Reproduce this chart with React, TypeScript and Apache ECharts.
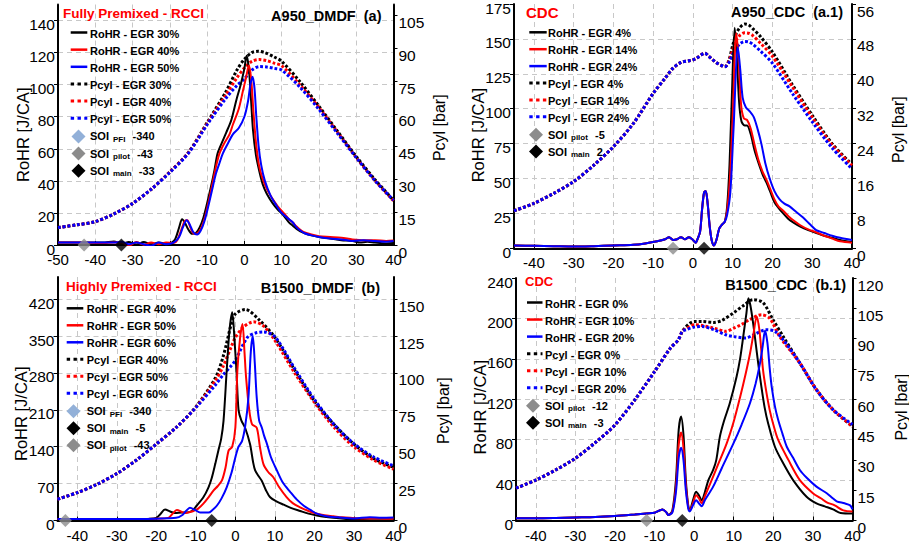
import React, { useEffect, useRef } from 'react';
import * as echarts from 'echarts';

type P = [number, number][];

const FF = 'Arial, "Liberation Sans", Helvetica, sans-serif';
const BLACK = '#000000';
const RED = '#ff0000';
const BLUE = '#0000ff';
const GRAY = '#8c8c8c';
const PFI = '#92b0d8';

// ---------- Panel (a) A950_DMDF ----------
const aRoHR30: P = [[-50,1.5],[-44,1.5],[-38,1.5],[-35,2.2],[-33,0.8],[-31,1.8],[-29,0.3],[-27,1.8],[-25,0.5],[-23,1.5],[-21,1],[-19.5,1.5],[-18.5,4],[-17.5,11],[-16.7,16],[-16,14],[-15,9.5],[-14,7],[-13,7.5],[-12,11],[-11,17],[-10,26],[-9,36],[-8,47],[-7.2,57],[-6,64],[-4.9,70],[-3.5,78],[-2.2,90],[-1,100],[0,110],[0.6,118],[1.2,110],[1.8,90],[2.3,72],[3.1,56],[4,46],[4.9,38],[6,32],[7.6,26],[9,22],[10.3,19],[12,14],[13,12],[14,10],[15,8.5],[16,7.5],[18,6],[20,5],[23,4],[26,3],[29,2.5],[31,1.5],[33,2],[35,1.5],[38,1],[40,1.2]];
const aRoHR40: P = [[-50,1.5],[-44,1.5],[-38,1.2],[-35,1.5],[-33,1.5],[-31,-0.5],[-29,1.8],[-27,0.2],[-25,1.5],[-23,0.5],[-21,1.5],[-19,1.2],[-18,3],[-17,9],[-16,15],[-15.3,15.5],[-14.5,11],[-13.5,7],[-12.5,7.5],[-11.5,11],[-10.5,18],[-9.5,28],[-8.5,39],[-7.5,50],[-6.7,57],[-5.5,63],[-4,69],[-3.1,75],[-1.5,85],[-0.4,96],[0.5,105],[1.2,112],[1.8,104],[2.4,84],[3.1,64],[3.9,50],[4.8,42],[6,35],[7.5,29],[9,24],[10.5,20],[12,16],[13,14],[14,11.5],[15,9.5],[16,8],[18,6.5],[20,5.5],[23,5],[26,4.5],[29,3.5],[32,3],[35,3],[38,2.5],[40,2.8]];
const aRoHR50: P = [[-50,1.5],[-44,1.5],[-38,1.5],[-35,1.5],[-33,2],[-31,0.5],[-29,1.5],[-27,0.5],[-25,-0.5],[-23,1.5],[-21,0.5],[-19,1.5],[-17.5,5],[-16.5,11],[-15.5,15.5],[-14.7,13],[-13.7,8],[-12.7,6.5],[-11.7,9],[-10.7,15],[-9.7,24],[-8.7,34],[-7.7,44],[-6.7,51],[-5.8,57],[-4.5,63],[-3.1,69],[-1.5,73],[0,80],[1,90],[1.6,100],[2.2,105],[2.7,98],[3.2,80],[3.8,62],[4.5,50],[5.5,40],[7,31],[8.5,25],[10,20],[12,16],[13,14],[14,11],[15,9],[16,7.5],[18,6],[20,5],[23,4],[26,3.5],[29,2.5],[32,3],[35,2.5],[38,2],[40,2.5]];
const aPcyl30: P = [[-50,8],[-45,9.2],[-40,10.7],[-35,14.2],[-30,19],[-25,25.5],[-20,33.4],[-15,42.4],[-10,56],[-5,70],[-2,80],[0,85],[2,88],[3.6,88.6],[5.5,88],[8,86],[10,84],[15,74.5],[20,63.5],[25,52],[30,40.5],[35,30],[40,20.5]];
const aPcyl40: P = [[-50,8],[-45,9.2],[-40,10.7],[-35,14.2],[-30,19],[-25,25.5],[-20,33.4],[-15,42.2],[-10,55.5],[-5,68.5],[-2,76.5],[0,81],[2,84],[4,84.8],[6,84.3],[8,83.2],[10,82],[15,73],[20,62.8],[25,51.5],[30,40],[35,29.5],[40,20.2]];
const aPcyl50: P = [[-50,8],[-45,9.2],[-40,10.7],[-35,14.2],[-30,19],[-25,25.5],[-20,33.2],[-15,42],[-10,55],[-5,67],[-2,73],[0,76],[2,80],[4,81.6],[6,81.4],[8,80.8],[10,80],[15,72],[20,62],[25,51],[30,40],[35,29.5],[40,20.5]];
const aSoiX = [-43, -33];

// ---------- Panel (a.1) A950_CDC ----------
const a1RoHRBase: P = [[-45,2],[-40,1.8],[-35,1.5],[-30,1.2],[-25,1.5],[-20,2],[-15,2.5],[-12,3.5],[-9,5],[-7,6.5],[-6,8],[-5,6],[-4,6.5],[-3,8],[-2,6.5],[-1,8],[0,6],[0.7,4],[1.2,7],[1.8,12],[2.3,28],[2.8,40],[3.2,41],[3.7,32],[4.2,16],[4.7,6],[5.3,2],[5.9,6],[6.6,14],[7.3,17],[8,19]];
const a1RoHR4: P = [...a1RoHRBase, [8.6,30],[9.2,60],[9.8,110],[10.5,158],[11,140],[11.6,105],[12.2,91],[13,88],[13.6,88],[14.5,82],[15.5,70],[16.5,61],[17.5,53],[18.5,47],[19.5,40],[20.5,33],[21.5,29],[22.7,25],[24,21],[25.5,18],[27,15.5],[29,13],[31,11],[33,9],[35,7.5],[37,6],[40,4.5]];
const a1RoHR14: P = [...a1RoHRBase, [8.6,27],[9.3,50],[10,95],[10.9,154],[11.5,135],[12.1,103],[12.8,93],[13.6,92],[14.5,86],[15.5,74],[16.5,63],[17.5,55],[18.5,49],[19.5,42],[20.5,35],[21.5,30],[22.7,27],[24,23],[25.5,19.5],[27,16.5],[29,13.5],[31,11.5],[33,9],[35,7],[37,5],[40,4]];
const a1RoHR24: P = [...a1RoHRBase, [8.6,24],[9.4,40],[10.2,85],[11.3,144],[11.9,128],[12.5,108],[13.3,101],[14.3,98],[15.3,94],[16.3,85],[17.2,75],[18.2,61],[19.3,50],[20.5,41],[21.8,35],[23,32],[24.3,30],[26,26],[27.7,22],[29.5,17],[31,13],[33,11],[35,9],[37,7.5],[40,6]];
const a1PcylBase: P = [[-45,8.6],[-40,10.3],[-35,12.6],[-30,15.3],[-25,19],[-20,23.3],[-15,28.6],[-10,35.5],[-7,39],[-5,41.3],[-3,42.6],[-1,43],[0,43.2],[1,43.6],[2,44.3],[3,44.7],[4,44],[5,43.2],[6,42.5],[7,42],[8,41.6]];
const a1Pcyl4: P = [...a1PcylBase, [9,43],[10,46.5],[10.8,49],[11.8,50.6],[13,51.4],[14,51.2],[15,50.4],[17,48.5],[20,45],[25,37.5],[30,30.5],[35,24],[40,19.2]];
const a1Pcyl14: P = [...a1PcylBase, [9,42.8],[10,45.5],[10.8,47.5],[11.8,48.8],[13,49.4],[14,49.3],[15,48.8],[17,47],[20,44],[25,37],[30,30],[35,23.7],[40,19]];
const a1Pcyl24: P = [...a1PcylBase, [9,42.5],[10,44.5],[11,46],[12,47],[13,47.4],[14,47.3],[15,46.8],[17,45.2],[20,42.4],[25,35.5],[30,29],[35,23],[40,18.2]];
const a1SoiX = [-5, 2.8];

// ---------- Panel (b) B1500_DMDF ----------
const bRoHR40: P = [[-45,3],[-40,3],[-35,3],[-30,2.5],[-25,2.5],[-22,3],[-20,5],[-19,12],[-17.8,21],[-16.5,17],[-15.2,14],[-13.5,15],[-12.3,15],[-11,18],[-9.8,28],[-8.1,44],[-6.8,63],[-6,80],[-5.1,107],[-4.3,133],[-3.6,155],[-3,189],[-2.2,284],[-1.5,360],[-0.8,395],[-0.2,340],[0.3,280],[0.8,210],[1.5,190],[2.5,175],[3.7,145],[4.5,110],[5,95],[5.8,85],[6.7,75],[7.7,58],[8.8,44],[10.5,36],[12.2,30],[14,24],[16.4,18],[18.5,13],[20.6,9.5],[22.5,7],[24.8,5],[28,3],[31,1.5],[34,0.5],[37,0.5],[40,0.5]];
const bRoHR50: P = [[-45,3],[-40,3],[-35,3],[-30,3],[-25,3],[-20,3.5],[-17,5],[-16,12],[-14.8,20],[-13.5,16],[-12.7,14],[-11.5,16],[-10.6,18],[-9.5,22],[-8.1,32],[-6.8,44],[-5.5,57],[-4.5,65],[-3.4,76],[-2.5,100],[-1.7,133],[-0.8,140],[0,177],[0.5,284],[1.2,347],[1.8,373],[2.3,320],[2.7,272],[3.5,210],[4.2,183],[5.4,176],[6.2,140],[7.1,107],[8.3,92],[9.6,82],[11,64],[13,44],[14.5,33],[16.4,25],[18.5,18],[20.6,13],[22.5,10],[24.8,8],[27,6],[29,5],[32,4],[35,4],[38,3.5],[40,3.5]];
const bRoHR60: P = [[-45,3],[-40,3],[-35,3],[-30,3],[-25,3],[-20,3.5],[-15,5],[-13.5,10],[-12.5,18],[-11.5,24],[-10.2,20],[-8.9,15],[-6.8,15],[-5.8,20],[-4.7,28],[-3.5,42],[-2.2,63],[-1,90],[0,120],[0.8,140],[1.7,151],[2.5,180],[3.3,233],[3.9,320],[4.4,350],[4.9,300],[5.4,233],[6,190],[6.7,176],[7.3,160],[8,145],[9,120],[10.5,95],[12,72],[13.9,54],[15.5,40],[17.3,28],[19,20],[20.6,13],[23,8],[26,6],[30,4],[34,6],[37,5],[40,5.5]];
const bPcyl40: P = [[-45,14.4],[-40,18.9],[-35,24.5],[-30,31.8],[-25,41],[-20,51.8],[-15,63],[-10,77],[-5,97],[-3,112],[-1,133.5],[0,140],[2.5,143],[6,136],[10,124],[15,102],[20,81],[25,65],[30,51.8],[35,42],[40,36]];
const bPcyl50: P = [[-45,14.4],[-40,18.9],[-35,24.5],[-30,31.8],[-25,41],[-20,51.8],[-15,63],[-10,76.7],[-5,95],[-3,105],[-1,118],[0,124],[2,131],[4.6,134.6],[7,132],[10,122],[15,100],[20,80],[25,63],[30,50],[35,41],[40,34.8]];
const bPcyl60: P = [[-45,14.4],[-40,18.9],[-35,24.5],[-30,31.8],[-25,41],[-20,51.8],[-15,63],[-10,76.5],[-5,92],[-3,99],[-1,105],[0,108.5],[3,124],[5,127],[7.1,127.8],[10,124.5],[15,103],[20,82],[25,65],[30,52],[35,43],[40,37]];
const bSoiX = [-43, -6];

// ---------- Panel (b.1) B1500_CDC ----------
const b1RoHRBase: P = [[-45,2.2],[-40,2.2],[-35,2.5],[-30,3],[-25,3.5],[-20,4.5],[-15,6],[-12,7],[-10,7.7],[-8,11],[-7,8],[-6.5,5.4]];
const b1RoHR0: P = [...b1RoHRBase, [-5.5,10],[-4.6,40],[-3.9,90],[-3.3,103],[-2.7,85],[-2.1,40],[-1.5,15],[-1.1,10],[-0.3,20],[0.5,28.5],[1.2,25],[1.9,20],[2.7,28],[3.6,40],[4.8,50],[5.6,60],[6.5,83],[7.5,98],[9,116],[10.7,142],[11.6,160],[12.4,182],[13.2,205],[13.7,220],[14.2,213],[14.8,198],[15.4,180],[16.2,155],[17,132],[17.8,112],[18.7,96],[20.4,73],[22.5,56.6],[25,40],[28.4,23.5],[30.9,17],[33,14],[35.1,11],[37,7.5],[40,7]];
const b1RoHR10: P = [...b1RoHRBase, [-5.5,9],[-4.6,33],[-3.9,75],[-3.3,87],[-2.7,72],[-2.1,35],[-1.5,14],[-1.1,10],[-0.3,17],[0.5,25],[1.2,22],[1.9,17],[2.7,24],[4,36],[6,55],[8.2,76],[10,98],[11.6,122],[13,145],[14.1,165],[15,185],[15.8,202],[16.5,188],[17.4,149],[18.2,128],[19.1,109],[20,95],[21.2,80],[23.8,60],[26.7,40],[30,27],[32,22],[33.5,18],[35.5,15],[37.7,10],[40,9]];
const b1RoHR20: P = [...b1RoHRBase, [-5.5,8],[-4.6,28],[-3.9,62],[-3.3,72],[-2.7,60],[-2.1,30],[-1.5,12],[-1.1,9],[-0.3,15],[0.5,20],[1.2,17],[1.9,14],[2.7,20],[4.8,33.5],[7,52],[9.9,76],[12,95],[14.1,116],[15.5,135],[16.6,155],[17.3,172],[17.9,188],[18.5,176],[19.1,150],[19.6,132],[20.4,113],[21.2,100],[22.3,86],[23.4,73],[25,62],[26.7,50],[28.5,42],[30.9,33.5],[33.5,27],[35,22],[36,19],[38,17],[39.4,15],[40,11]];
const b1PcylBase: P = [[-45,16],[-40,20],[-35,25],[-30,30.8],[-25,38.5],[-20,47.3],[-15,59.7],[-10,73.7],[-6,85.3],[-4,89.4],[-3,93.6]];
const b1Pcyl0: P = [...b1PcylBase, [-2,96],[-1,97.7],[0,98.5],[2,98.5],[5,98],[7,99],[9.9,102.7],[12.4,106.3],[14.9,109.3],[17.4,107.8],[19.9,99.4],[22.5,91],[26.7,77.9],[30.9,64.7],[35.1,54.8],[40,46.5]];
const b1Pcyl10: P = [...b1PcylBase, [-2,95],[-1,96],[0,96.9],[2,96.5],[5,95.2],[8,93.6],[10,95.2],[12,97],[14,99.4],[17,101.8],[19.1,100],[21.6,91],[26.7,77.9],[30.9,64.7],[35.1,54.8],[40,46.5]];
const b1Pcyl20: P = [...b1PcylBase, [-2,94.4],[0,95.7],[2,96],[5,94.4],[8,91.9],[10,91],[13,90.3],[15,91.9],[18.3,94.4],[20.4,93.6],[22.5,89.4],[26.7,77.9],[30.9,64.7],[35.1,54.8],[40,47.5]];
const b1SoiX = [-12, -3];

// ---------- Labels ----------
const aNames = ['RoHR - EGR 30%', 'RoHR - EGR 40%', 'RoHR - EGR 50%', 'Pcyl - EGR 30%', 'Pcyl - EGR 40%', 'Pcyl - EGR 50%'];
const a1Names = ['RoHR - EGR 4%', 'RoHR - EGR 14%', 'RoHR - EGR 24%', 'Pcyl - EGR 4%', 'Pcyl - EGR 14%', 'Pcyl - EGR 24%'];
const bNames = ['RoHR - EGR 40%', 'RoHR - EGR 50%', 'RoHR - EGR 60%', 'Pcyl - EGR 40%', 'Pcyl - EGR 50%', 'Pcyl - EGR 60%'];
const b1Names = ['RoHR - EGR 0%', 'RoHR - EGR 10%', 'RoHR - EGR 20%', 'Pcyl - EGR 0%', 'Pcyl - EGR 10%', 'Pcyl - EGR 20%'];
const aSoiLabels = [['PFI', '-340'], ['pilot', '-43'], ['main', '-33']];
const a1SoiLabels = [['pilot', '-5'], ['main', '2']];
const bSoiLabels = [['PFI', '-340'], ['main', '-5'], ['pilot', '-43']];
const b1SoiLabels = [['pilot', '-12'], ['main', '-3']];
const soiColor: Record<string, string> = { PFI: PFI, pilot: GRAY, main: BLACK };

const COLORS = [BLACK, RED, BLUE];

interface PanelCfg {
  grid: { left: number; top: number; width: number; height: number };
  xMin: number; xMax: number;
  yMax: number; yInt: number; y2Max: number; y2Int: number;
  hideMax: boolean;
  rohr: P[]; pcyl: P[]; names: string[];
  soiX: number[]; soiLabels: string[][]; soiMarkers: string[];
  redTitle: string; redX: number; redY: number; redSize: number;
  title: string; titleRight: number; titleY: number;
  leg: { sx1: number; sx2: number; tx: number; y0: number; dy: number; dx: number };
  nameGapL: number; nameGapR: number; shiftL: number; shiftR: number;
}

const panels: PanelCfg[] = [
  {
    grid: { left: 58, top: 4.5, width: 335.5, height: 240.5 },
    xMin: -50, xMax: 40, yMax: 150, yInt: 20, y2Max: 110, y2Int: 15, hideMax: true,
    rohr: [aRoHR30, aRoHR40, aRoHR50], pcyl: [aPcyl30, aPcyl40, aPcyl50], names: aNames,
    soiX: aSoiX, soiLabels: aSoiLabels, soiMarkers: ['pilot', 'main'],
    redTitle: 'Fully Premixed - RCCI', redX: 63, redY: 13.3, redSize: 13.5,
    title: 'A950_DMDF  (a)', titleRight: 381.5, titleY: 16,
    leg: { sx1: 70.7, sx2: 87.3, tx: 90, y0: 33.5, dy: 17.15, dx: 78.5 },
    nameGapL: 27, nameGapR: 38, shiftL: 10, shiftR: 3,
  },
  {
    grid: { left: 514, top: 4, width: 338, height: 244.3 },
    xMin: -45, xMax: 40, yMax: 175, yInt: 25, y2Max: 56, y2Int: 8, hideMax: false,
    rohr: [a1RoHR4, a1RoHR14, a1RoHR24], pcyl: [a1Pcyl4, a1Pcyl14, a1Pcyl24], names: a1Names,
    soiX: a1SoiX, soiLabels: a1SoiLabels, soiMarkers: ['pilot', 'main'],
    redTitle: 'CDC', redX: 526, redY: 12, redSize: 15,
    title: 'A950_CDC  (a.1)', titleRight: 843, titleY: 12,
    leg: { sx1: 529.3, sx2: 546.7, tx: 548, y0: 33.3, dy: 16.9, dx: 536 },
    nameGapL: 28, nameGapR: 38, shiftL: 9, shiftR: 3.5,
  },
  {
    grid: { left: 57.5, top: 277, width: 336, height: 243.5 },
    xMin: -45, xMax: 40, yMax: 462, yInt: 70, y2Max: 165, y2Int: 25, hideMax: true,
    rohr: [bRoHR40, bRoHR50, bRoHR60], pcyl: [bPcyl40, bPcyl50, bPcyl60], names: bNames,
    soiX: bSoiX, soiLabels: bSoiLabels, soiMarkers: ['pilot', 'main'],
    redTitle: 'Highly Premixed - RCCI', redX: 66, redY: 286, redSize: 13.5,
    title: 'B1500_DMDF  (b)', titleRight: 380, titleY: 288.3,
    leg: { sx1: 66.7, sx2: 83.3, tx: 86.7, y0: 309.3, dy: 17.0, dx: 73.5 },
    nameGapL: 28, nameGapR: 42, shiftL: 15, shiftR: 12,
  },
  {
    grid: { left: 516, top: 278, width: 336.5, height: 242.5 },
    xMin: -45, xMax: 40, yMax: 240, yInt: 40, y2Max: 120, y2Int: 15, hideMax: false,
    rohr: [b1RoHR0, b1RoHR10, b1RoHR20], pcyl: [b1Pcyl0, b1Pcyl10, b1Pcyl20], names: b1Names,
    soiX: b1SoiX, soiLabels: b1SoiLabels, soiMarkers: ['pilot', 'main'],
    redTitle: 'CDC', redX: 525, redY: 281.7, redSize: 13,
    title: 'B1500_CDC  (b.1)', titleRight: 846, titleY: 285,
    leg: { sx1: 527, sx2: 542.5, tx: 545, y0: 303.5, dy: 17.05, dx: 533 },
    nameGapL: 28, nameGapR: 41, shiftL: 8, shiftR: 8,
  },
];

const gridLine = { color: '#c8c8c8', width: 1, type: [5, 4] as number[] };

function buildOption() {
  const grid: any[] = [];
  const xAxis: any[] = [];
  const yAxis: any[] = [];
  const series: any[] = [];
  const graphic: any[] = [];

  panels.forEach((p, i) => {
    grid.push({ ...p.grid, containLabel: false, outerBoundsMode: 'none' });
    const xa: any = {
      type: 'value', gridIndex: i, min: p.xMin, max: p.xMax,
      axisLine: { show: true, onZero: false, lineStyle: { color: BLACK, width: 2 } },
      axisTick: { show: true, inside: true, length: 4, lineStyle: { color: BLACK, width: 1 } },
      axisLabel: {
        color: BLACK, fontSize: 15, fontFamily: FF, margin: 7,
        formatter: (v: number) => (Math.abs(v % 10) < 1e-9 ? String(v) : ''),
      },
      splitLine: { show: true, lineStyle: gridLine },
    };
    if (p.xMin % 10 === 0) xa.interval = 10; else xa.splitNumber = 9;
    xAxis.push(xa);

    yAxis.push({
      type: 'value', gridIndex: i, position: 'left', min: 0, max: p.yMax, interval: p.yInt,
      axisLine: { show: true, onZero: false, lineStyle: { color: BLACK, width: 2 } },
      axisTick: { show: true, length: 4, lineStyle: { color: BLACK, width: 1 } },
      axisLabel: { color: BLACK, fontSize: 15.5, fontFamily: FF, margin: 3, showMaxLabel: !p.hideMax, verticalAlign: 'top', lineHeight: 8 },
      splitLine: { show: true, showMaxLine: false, lineStyle: gridLine },
      name: 'RoHR [J/CA]', nameLocation: 'middle', nameRotate: 90, nameGap: p.nameGapL, nameMoveOverlap: false,
      nameTextStyle: { color: BLACK, fontSize: 16.5, fontFamily: FF, padding: [0, p.shiftL * 2, 0, 0] },
    });
    yAxis.push({
      type: 'value', gridIndex: i, position: 'right', min: 0, max: p.y2Max, interval: p.y2Int,
      axisLine: { show: true, onZero: false, lineStyle: { color: BLACK, width: 2 } },
      axisTick: { show: true, length: 4, lineStyle: { color: BLACK, width: 1 } },
      axisLabel: { color: BLACK, fontSize: 15.5, fontFamily: FF, margin: 5, showMaxLabel: !p.hideMax, verticalAlign: 'top', lineHeight: 14 },
      splitLine: { show: false },
      name: 'Pcyl [bar]', nameLocation: 'middle', nameRotate: 90, nameGap: p.nameGapR, nameMoveOverlap: false,
      nameTextStyle: { color: BLACK, fontSize: 16, fontFamily: FF, padding: [0, p.shiftR * 2, 0, 0] },
    });

    // Pcyl (dotted, right axis)
    p.pcyl.forEach((d, k) => {
      series.push({
        type: 'line', name: p.names[3 + k], xAxisIndex: i, yAxisIndex: 2 * i + 1, data: d,
        symbol: 'none', showSymbol: false, smooth: 0.3, silent: true, z: 2,
        lineStyle: { color: COLORS[k], width: 3, type: [2.8, 2], cap: 'butt' },
      });
    });
    // RoHR (solid, left axis)
    p.rohr.forEach((d, k) => {
      series.push({
        type: 'line', name: p.names[k], xAxisIndex: i, yAxisIndex: 2 * i, data: d,
        symbol: 'none', showSymbol: false, smooth: 0.3, silent: true, z: 3,
        lineStyle: { color: COLORS[k], width: 2 },
      });
    });
    // SOI diamonds
    series.push({
      type: 'scatter', name: 'SOI ' + i, xAxisIndex: i, yAxisIndex: 2 * i, symbol: 'diamond', symbolSize: 13,
      silent: true, z: 5, clip: false,
      data: p.soiX.map((x, k) => ({ value: [x, 0], itemStyle: { color: soiColor[p.soiMarkers[k]] } })),
    });

    // Titles
    graphic.push({
      type: 'text', x: p.redX, y: p.redY, silent: true, z: 100,
      style: { text: p.redTitle, fill: RED, fontSize: p.redSize, fontWeight: 'bold', fontFamily: FF, align: 'left', verticalAlign: 'middle' },
    });
    graphic.push({
      type: 'text', x: p.titleRight, y: p.titleY, silent: true, z: 100,
      style: { text: p.title, fill: BLACK, fontSize: 14.5, fontWeight: 'bold', fontFamily: FF, align: 'right', verticalAlign: 'middle' },
    });

    // Legend
    const L = p.leg;
    const rich = {
      b: { fontSize: 11, fontWeight: 'bold', fontFamily: FF, fill: BLACK, lineHeight: 14 },
      s: { fontSize: 8, fontWeight: 'bold', fontFamily: FF, fill: BLACK, lineHeight: 8, verticalAlign: 'bottom', padding: [0, 1, 0, 1] },
    };
    p.names.forEach((nm, k) => {
      const y = L.y0 + k * L.dy;
      const dotted = k >= 3;
      graphic.push({
        type: 'line', silent: true, z: 100,
        shape: { x1: L.sx1, y1: y - 1, x2: L.sx2, y2: y - 1 },
        style: { stroke: COLORS[k % 3], lineWidth: dotted ? 3 : 2.5, lineDash: dotted ? [3.4, 3.4] : null },
      });
      graphic.push({
        type: 'text', x: L.tx, y, silent: true, z: 100,
        style: { text: nm, fill: BLACK, fontSize: 11, fontWeight: 'bold', fontFamily: FF, align: 'left', verticalAlign: 'middle' },
      });
    });
    p.soiLabels.forEach((lab, k) => {
      const y = L.y0 + (6 + k) * L.dy;
      const h = 7;
      graphic.push({
        type: 'polygon', silent: true, z: 100,
        shape: { points: [[L.dx, y - h], [L.dx + h, y], [L.dx, y + h], [L.dx - h, y]] },
        style: { fill: soiColor[lab[0]] },
      });
      graphic.push({
        type: 'text', x: L.tx, y, silent: true, z: 100,
        style: { text: `{b|SOI }{s|${lab[0]}}{b|  ${lab[1]}}`, rich, align: 'left', verticalAlign: 'middle' },
      });
    });
  });

  return {
    animation: false,
    backgroundColor: '#ffffff',
    textStyle: { fontFamily: FF },
    grid, xAxis, yAxis, series, graphic,
  };
}

export default function App() {
  const ref = useRef<HTMLDivElement>(null);
  useEffect(() => {
    if (!ref.current) return;
    const chart = echarts.init(ref.current, null, { renderer: 'svg' });
    chart.setOption(buildOption() as any);
    return () => chart.dispose();
  }, []);
  return (
    <div
      ref={ref}
      style={{ position: 'fixed', left: 0, top: 0, width: 909, height: 544, background: '#fff' }}
    />
  );
}
